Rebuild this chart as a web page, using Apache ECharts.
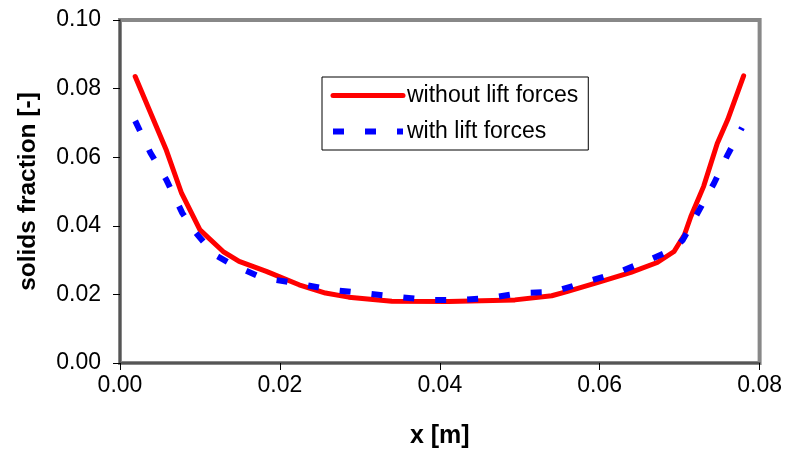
<!DOCTYPE html>
<html>
<head>
<meta charset="utf-8">
<script src="https://cdn.jsdelivr.net/npm/echarts@6/dist/echarts.min.js"></script>
<style>html,body{margin:0;padding:0;background:#fff;}#chart{width:785px;height:454px;}</style>
</head>
<body>
<div id="chart"></div>
<script>
const xTicks = [0.00, 0.02, 0.04, 0.06, 0.08];
const yTicks = [0.00, 0.02, 0.04, 0.06, 0.08, 0.10];

const seriesNames = ['without lift forces', 'with lift forces'];

const withoutX = [0.0019, 0.0058, 0.0077, 0.0100, 0.0129, 0.0149, 0.0183, 0.0224, 0.0257, 0.0286, 0.0340, 0.0411, 0.0494, 0.0540, 0.0560, 0.0598, 0.0639, 0.0672, 0.0693, 0.0706, 0.0714, 0.0730, 0.0747, 0.0760, 0.0780];
const withoutY = [0.0835, 0.0620, 0.0495, 0.0388, 0.0325, 0.0296, 0.0267, 0.0228, 0.0204, 0.0192, 0.0180, 0.0179, 0.0184, 0.0196, 0.0209, 0.0235, 0.0264, 0.0293, 0.0325, 0.0374, 0.0427, 0.0515, 0.0640, 0.0709, 0.0837];

const withX = [0.0019, 0.0038, 0.0058, 0.0078, 0.0095, 0.0118, 0.0141, 0.0178, 0.0220, 0.0262, 0.0303, 0.0343, 0.0384, 0.0423, 0.0461, 0.0502, 0.0542, 0.0581, 0.0623, 0.0662, 0.0693, 0.0704, 0.0720, 0.0743, 0.0760, 0.0778];
const withY = [0.0706, 0.0613, 0.0534, 0.0437, 0.0379, 0.0316, 0.0286, 0.0248, 0.0233, 0.0214, 0.0204, 0.0194, 0.0184, 0.0184, 0.0189, 0.0204, 0.0207, 0.0235, 0.0264, 0.0301, 0.0332, 0.0359, 0.0427, 0.0524, 0.0607, 0.0686];

const FONT = "'Liberation Sans', Arial, sans-serif";
const zip = (a, b) => a.map((v, i) => [v, b[i]]);

const chart = echarts.init(document.getElementById('chart'), null, {renderer: 'canvas'});
chart.setOption({
  animation: false,
  backgroundColor: '#ffffff',
  grid: {
    left: 120, right: 22, top: 20, bottom: 91,
    show: true, borderColor: '#888888', borderWidth: 4, backgroundColor: '#ffffff'
  },
  legend: {
    orient: 'vertical',
    left: 322, top: 77,
    padding: [7, 10, 7, 8],
    borderColor: '#000', borderWidth: 1, backgroundColor: '#fff',
    itemWidth: 70, itemHeight: 14, itemGap: 13,
    itemStyle: {opacity: 0},
    lineStyle: {width: 'inherit', type: 'inherit', cap: 'inherit'},
    textStyle: {fontFamily: FONT, fontSize: 23, color: '#000', lineHeight: 23, padding: [0, 0, 0, -1]},
    data: seriesNames
  },
  xAxis: {
    type: 'value', min: 0, max: 0.08, interval: 0.02,
    name: 'x [m]', nameLocation: 'middle', nameGap: 61,
    nameTextStyle: {fontFamily: FONT, fontSize: 25, fontWeight: 'bold', color: '#000'},
    axisLine: {show: true, lineStyle: {color: '#555', width: 2}},
    axisTick: {show: true, inside: false, length: 7, lineStyle: {color: '#000', width: 1}},
    axisLabel: {fontFamily: FONT, fontSize: 23, color: '#000', margin: 11,
      formatter: v => xTicks.find(t => Math.abs(t - v) < 1e-9).toFixed(2)},
    splitLine: {show: false}
  },
  yAxis: {
    type: 'value', min: 0, max: 0.10, interval: 0.02,
    name: 'solids fraction [-]', nameLocation: 'middle', nameGap: 79,
    nameTextStyle: {fontFamily: FONT, fontSize: 24.5, fontWeight: 'bold', color: '#000'},
    axisLine: {show: true, lineStyle: {color: '#555', width: 2}},
    axisTick: {show: true, inside: false, length: 7, lineStyle: {color: '#000', width: 1}},
    axisLabel: {fontFamily: FONT, fontSize: 23, color: '#000', margin: 19,
      formatter: v => yTicks.find(t => Math.abs(t - v) < 1e-9).toFixed(2)},
    splitLine: {show: false}
  },
  series: [
    {
      name: seriesNames[0], type: 'line', data: zip(withoutX, withoutY),
      symbol: 'none', smooth: false, z: 2,
      lineStyle: {color: '#ff0000', width: 5, cap: 'round', join: 'round'},
      itemStyle: {color: '#ff0000'}
    },
    {
      name: seriesNames[1], type: 'line', data: zip(withX, withY),
      symbol: 'none', smooth: false, z: 3,
      lineStyle: {color: '#0000ff', width: 6, type: [11, 21], cap: 'butt'},
      itemStyle: {color: '#0000ff'}
    }
  ]
});
</script>
</body>
</html>
